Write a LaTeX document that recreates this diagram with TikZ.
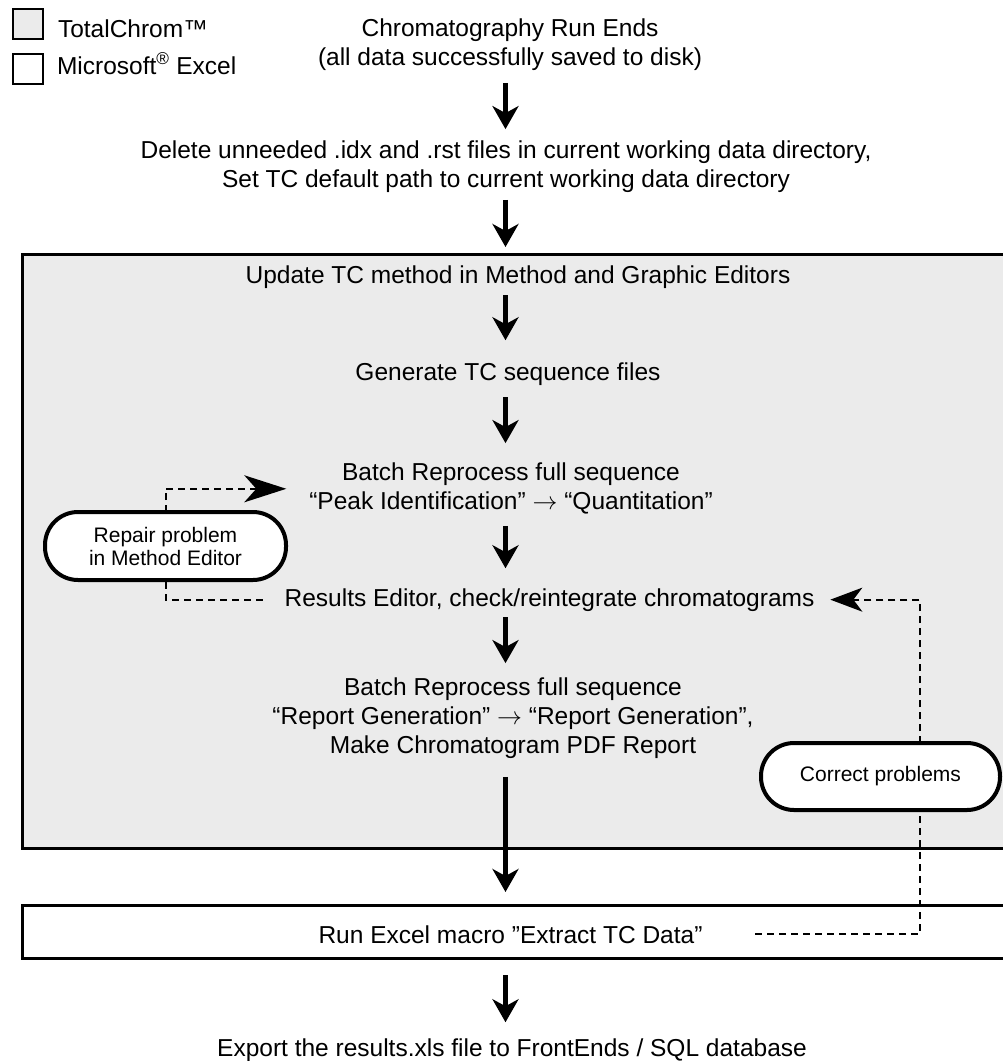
\documentclass[tikz,border=0pt]{standalone}
\usepackage{fontspec}
\setmainfont{Liberation Sans}
\usetikzlibrary{arrows.meta}
\definecolor{tcgray}{RGB}{235,235,235}
\begin{document}
\begin{tikzpicture}[x=1pt,y=-1pt,
  txt/.style={inner sep=0pt, outer sep=0pt, font=\fontsize{24.5}{29}\selectfont, align=center},
  pill/.style={draw, line width=4pt, fill=white, rounded corners=33pt, inner sep=0pt, outer sep=0pt,
    font=\fontsize{21}{23}\selectfont, align=center},
  frame/.style={draw, line width=3pt, inner sep=0pt, outer sep=0pt},
  legbox/.style={draw, line width=2.5pt, inner sep=0pt, outer sep=0pt, minimum width=30pt, minimum height=30pt, anchor=north west},
  mainarrow/.style={line width=5pt, -{Stealth[length=23pt,width=26pt,inset=7pt]}},
  dashline/.style={line width=2pt, dash pattern=on 7pt off 5pt},
  bigtip/.style={-{Stealth[length=42pt,width=27pt,inset=12pt]}},
  smalltip/.style={-{Stealth[length=32pt,width=24pt,inset=9pt]}}
]
\useasboundingbox (0,0) rectangle (1003,1061);
\clip (0,0) rectangle (1003,1061);

% columns
\coordinate (col) at (505.5,0);
\coordinate (rcol) at (920,0);

% legend
\node[legbox, fill=tcgray] (leg1) at (13,9) {};
\node[txt, anchor=base west] (leg1t) at (58,37) {TotalChrom™};
\node[legbox, fill=white] (leg2) at (13,54) {};
\node[txt, anchor=base west] (leg2t) at (57,74) {Microsoft\textsuperscript{®} Excel};

% frames
\node[frame, fill=tcgray, minimum width=1018pt, minimum height=594pt] (tcbox) at (531,551) {};
\node[frame, fill=white, minimum width=1018pt, minimum height=53pt] (xlbox) at (531,931.5) {};

% texts
\node[txt, anchor=north] (title) at (510,19.1) {Chromatography Run Ends\\(all data successfully saved to disk)};
\node[txt, anchor=north] (delete) at (506,141.1) {Delete unneeded .idx and .rst files in current working data directory,\\Set TC default path to current working data directory};
\node[txt, anchor=base] (update) at (518,283) {Update TC method in Method and Graphic Editors};
\node[txt, anchor=base] (generate) at (508,380) {Generate TC sequence files};
\node[txt, anchor=north] (batch1) at (511,463.1) {Batch Reprocess full sequence\\“Peak Identification” $\rightarrow$ “Quantitation”};
\node[txt, anchor=base] (results) at (549.5,606) {Results Editor, check/reintegrate chromatograms};
\node[txt, anchor=north] (batch2) at (513,678.1) {Batch Reprocess full sequence\\“Report Generation” $\rightarrow$ “Report Generation”,\\Make Chromatogram PDF Report};
\node[txt, anchor=base] (xtext) at (510.5,943) {Run Excel macro ”Extract TC Data”};
\node[txt, anchor=base] (export) at (512,1056) {Export the results.xls file to FrontEnds / SQL database};

% pills
\node[pill, minimum width=241pt, minimum height=68pt] (repair) at (165.5,546) {Repair problem\\in Method Editor};
\node[pill, minimum width=239pt, minimum height=67pt] (correct) at (880.5,776.5) {Correct problems};

% main arrows
\draw[mainarrow, shorten <=12pt, shorten >=12pt] (title.south -| col) -- (delete.north -| col);
\draw[mainarrow, shorten <=7pt, shorten >=7pt] (delete.south -| col) -- (tcbox.north -| col);
\draw[mainarrow, shorten <=7pt, shorten >=22pt] (update.south -| col) -- (generate.north -| col);
\draw[mainarrow, shorten <=12pt, shorten >=20pt] (generate.south -| col) -- (batch1.north -| col);
\draw[mainarrow, shorten <=11.5pt, shorten >=20pt] (batch1.south -| col) -- (results.north -| col);
\draw[mainarrow, shorten <=6pt, shorten >=15pt] (results.south -| col) -- (batch2.north -| col);
\draw[mainarrow, shorten <=18pt, shorten >=13pt] (batch2.south -| col) -- (xlbox.north -| col);
\draw[mainarrow, shorten <=17pt, shorten >=16pt] (xlbox.south -| col) -- (export.north -| col);

% dashed loops
\draw[dashline] ([xshift=-22pt]results.west) -| (repair.south);
\draw[dashline, bigtip] (repair.north) |- ([xshift=-23pt]batch1.west);
\draw[dashline] ([xshift=53pt]xtext.east) -| (correct.south -| rcol);
\draw[dashline, smalltip] (correct.north -| rcol) |- ([xshift=16pt]results.east);
\end{tikzpicture}
\end{document}
